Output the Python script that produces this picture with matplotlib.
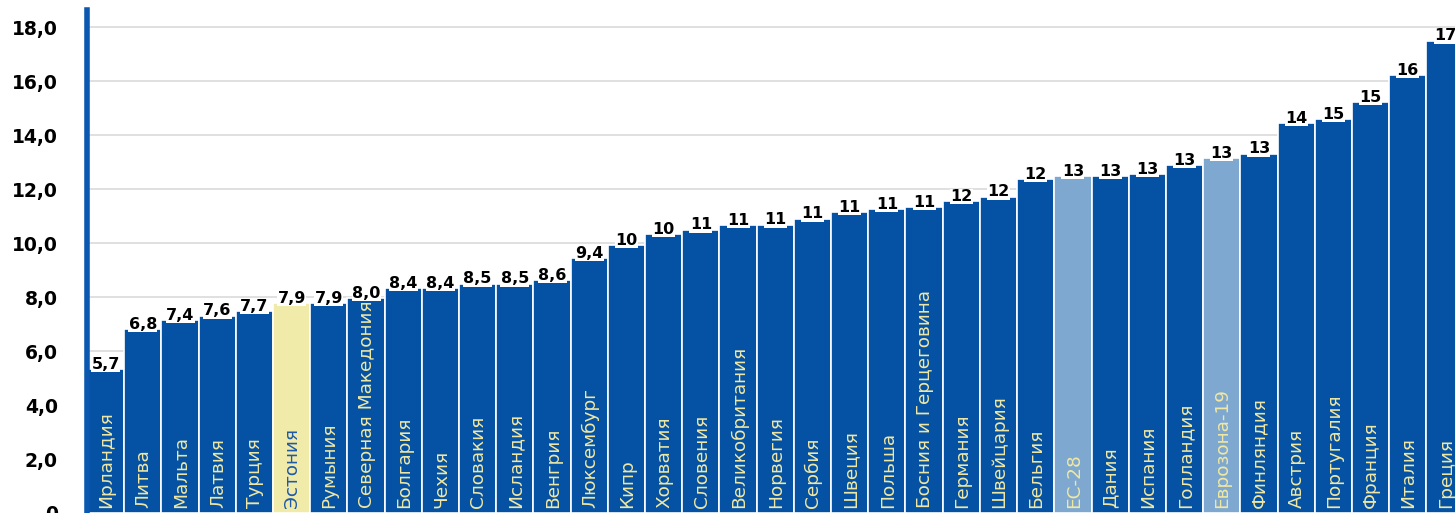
import matplotlib
matplotlib.use("Agg")
import matplotlib.pyplot as plt

categories = ["Ирландия", "Литва", "Мальта", "Латвия", "Турция", "Эстония", "Румыния",
              "Северная Македония", "Болгария", "Чехия", "Словакия", "Исландия", "Венгрия",
              "Люксембург", "Кипр", "Хорватия", "Словения", "Великобритания", "Норвегия",
              "Сербия", "Швеция", "Польша", "Босния и Герцеговина", "Германия", "Швейцария",
              "Бельгия", "ЕС-28", "Дания", "Испания", "Голландия", "Еврозона-19", "Финляндия",
              "Австрия", "Португалия", "Франция", "Италия", "Греция"]
values = [5.33, 6.80, 7.15, 7.31, 7.47, 7.77, 7.77, 7.97, 8.34, 8.33, 8.49, 8.49, 8.63,
          9.43, 9.93, 10.32, 10.50, 10.67, 10.68, 10.90, 11.15, 11.25, 11.33, 11.54, 11.72,
          12.36, 12.48, 12.48, 12.56, 12.89, 13.14, 13.31, 14.43, 14.59, 15.22, 16.21, 17.49]
value_labels = ["5,7", "6,8", "7,4", "7,6", "7,7", "7,9", "7,9", "8,0", "8,4", "8,4", "8,5",
                "8,5", "8,6", "9,4", "10", "10", "11", "11", "11", "11", "11", "11", "11",
                "12", "12", "12", "13", "13", "13", "13", "13", "13", "14", "15", "15", "16", "17"]
yticks = [0, 2, 4, 6, 8, 10, 12, 14, 16, 18]
ytick_labels = ["0", "2,0", "4,0", "6,0", "8,0", "10,0", "12,0", "14,0", "16,0", "18,0"]
highlight_home = "Эстония"
highlight_avg = ["ЕС-28", "Еврозона-19"]

BLUE = "#0552A5"
LIGHT = "#7FA8D1"
YELLOW = "#F1EBAA"
TXT_Y = "#F0E8A2"

plt.rcParams['font.family'] = ['DejaVu Sans']

fig = plt.figure(figsize=(14.55, 5.13), dpi=100)
W, H = 1455, 513
ax = fig.add_axes([87 / W, 0, (W - 87) / W, 503 / H])

colors = []
for c in categories:
    if c == highlight_home:
        colors.append(YELLOW)
    elif c in highlight_avg:
        colors.append(LIGHT)
    else:
        colors.append(BLUE)

x = list(range(len(categories)))
ax.bar(x, values, width=1.0, color=colors, edgecolor="white", linewidth=1.2, zorder=2)

for xi, v, lab, c in zip(x, values, value_labels, categories):
    ax.text(xi, v - 0.1, lab, ha="center", va="bottom", fontsize=11.5, fontweight="bold",
            color="black", zorder=3,
            bbox=dict(boxstyle="square,pad=0.02", fc="white", ec="none"))
    tc = "#1F5AA6" if c == highlight_home else TXT_Y
    ax.text(xi + 0.02, 0.2, c, rotation=90, ha="center", va="bottom", fontsize=13.3,
            color=tc, zorder=4)

ax.set_xlim(-0.5, 36.27)
ax.set_ylim(0, 18.63)
ax.set_yticks(yticks)
ax.set_yticklabels(ytick_labels, fontsize=13.5, fontweight="bold")
ax.tick_params(axis="y", length=0, pad=21)
ax.tick_params(axis="x", length=0, labelbottom=False)
ax.yaxis.grid(True, color="#DDDDDD", linewidth=1.3, zorder=0)
ax.set_axisbelow(True)
for s in ["top", "right", "bottom"]:
    ax.spines[s].set_visible(False)
ax.spines["left"].set_color("#0A58B0")
ax.spines["left"].set_linewidth(4)

fig.savefig("out.png", dpi=100)
